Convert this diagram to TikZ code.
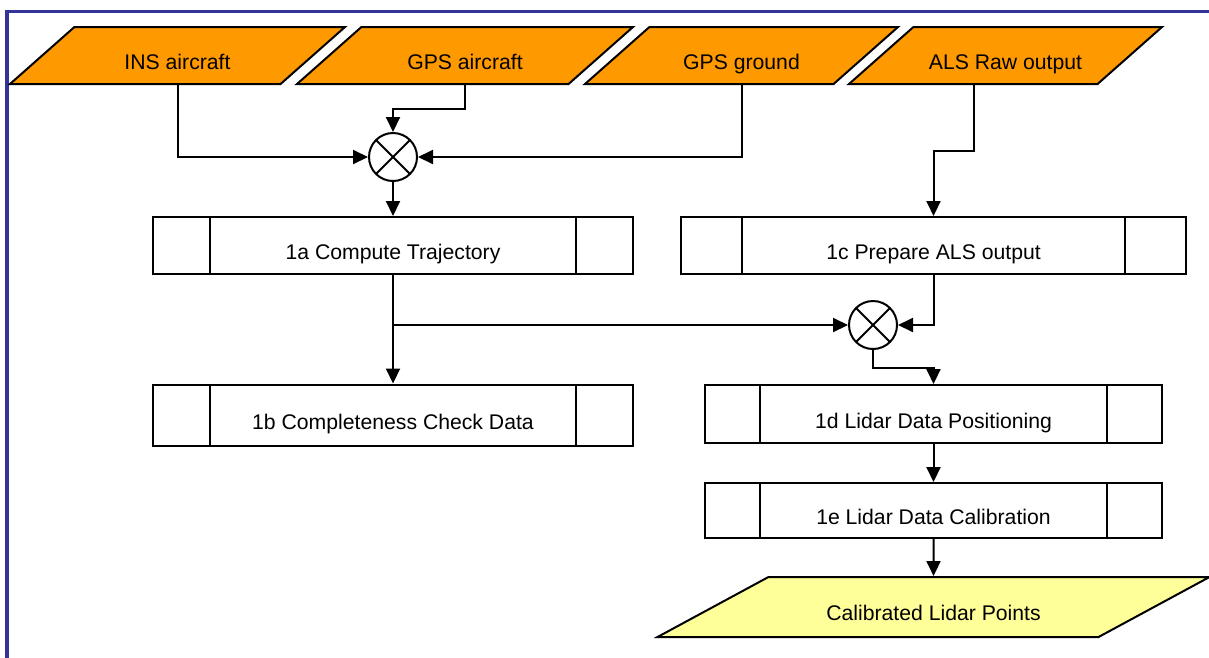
\documentclass[tikz,border=0pt]{standalone}
\usepackage{fontspec}
\setmainfont{Liberation Sans}
\usetikzlibrary{shapes.geometric, arrows.meta}
\definecolor{inputorange}{HTML}{FF9900}
\definecolor{outputyellow}{HTML}{FFFF99}
\definecolor{framecol}{HTML}{333399}
\def\linew{2pt}
\tikzstyle{arrow} = [line width=\linew,-{Triangle[length=15pt,width=14pt]}]

\begin{document}
\begin{tikzpicture}[x=1pt,y=-1pt, font=\fontsize{21.2}{25}\selectfont]
    \tikzstyle{data}=[trapezium, trapezium stretches body, draw, line width=\linew, inner sep=0pt]
    \tikzstyle{input data}=[data, fill=inputorange, trapezium left angle=41.5, trapezium right angle=138.5, text height=42.5pt, text depth=14.5pt]
    \tikzstyle{output data}=[data, fill=outputyellow, trapezium left angle=28.4, trapezium right angle=151.6, text height=43pt, text depth=17pt, minimum width=552pt]
    \tikzstyle{process}=[rectangle, draw, line width=\linew, fill=white, inner sep=0pt, text height=30pt, text depth=2pt]
    \tikzstyle{junction}=[circle, draw, line width=\linew, fill=white, minimum size=48pt, inner sep=0pt,
        path picture={\draw[line width=\linew] (path picture bounding box.south west) -- (path picture bounding box.north east)
            (path picture bounding box.north west) -- (path picture bounding box.south east);}]

    \useasboundingbox (0,0) rectangle (1209,657);
    % Draw the frame
    \draw[draw=framecol, line width=3.5pt] (7,11.5) rectangle (1260,700);

    % Draw the input data
    \foreach \name / \x / \w / \txt in {1/177.5/335/INS aircraft, 2/465/336/GPS aircraft, 3/741.5/313/GPS ground, 4/1005.5/313/ALS Raw output}
        \path node[input data, minimum width=\w pt] (I-\name) at (\x,55.5) {\txt};

    % Draw the junctions
    \path node[junction] (X-1) at (393,157) {};
    \path node[junction] (X-2) at (873,325) {};

    % Draw the processes
    \path node[process, minimum width=480pt, minimum height=57pt] (P-a) at (393,245.5) {1a Compute Trajectory};
    \path node[process, minimum width=480pt, minimum height=61pt] (P-b) at (393,415) {1b Completeness Check Data};
    \path node[process, minimum width=505pt, minimum height=57pt] (P-c) at (933.5,245.5) {1c Prepare ALS output};
    \path node[process, minimum width=457pt, minimum height=58pt] (P-d) at (933.5,414) {1d Lidar Data Positioning};
    \path node[process, minimum width=457pt, minimum height=55pt] (P-e) at (933.5,510.5) {1e Lidar Data Calibration};

    \foreach \name / \s in {a/58, b/58, c/62, d/56, e/56}{
        \draw[line width=\linew] ([xshift=\s pt]P-\name.north west) -- ([xshift=\s pt]P-\name.south west);
        \draw[line width=\linew] ([xshift=-\s pt]P-\name.north east) -- ([xshift=-\s pt]P-\name.south east);
    }

    % Draw the output data
    \path node[output data] (O-1) at (933.5,607) {Calibrated Lidar Points};

    % Draw the connections
    \draw[arrow] (I-1.south) |- (X-1.west);
    \draw[arrow] (I-2.south) -- ++(0,24) -| (X-1.north);
    \draw[arrow] (I-3.south) |- (X-1.east);
    \draw[arrow] (X-1.south) -- (P-a.north);
    \draw[arrow] ([xshift=-32pt]I-4.south) -- ++(0,66) -| (P-c.north);
    \draw[arrow] (P-a.south) -- (P-b.north);
    \draw[arrow] (P-a.south) |- (X-2.west);
    \draw[arrow] (P-c.south) |- (X-2.east);
    \draw[arrow] (X-2.south) -- ++(0,18) -| (P-d.north);
    \draw[arrow] (P-d.south) -- (P-e.north);
    \draw[arrow] (P-e.south) -- (O-1.north);
\end{tikzpicture}
\end{document}
